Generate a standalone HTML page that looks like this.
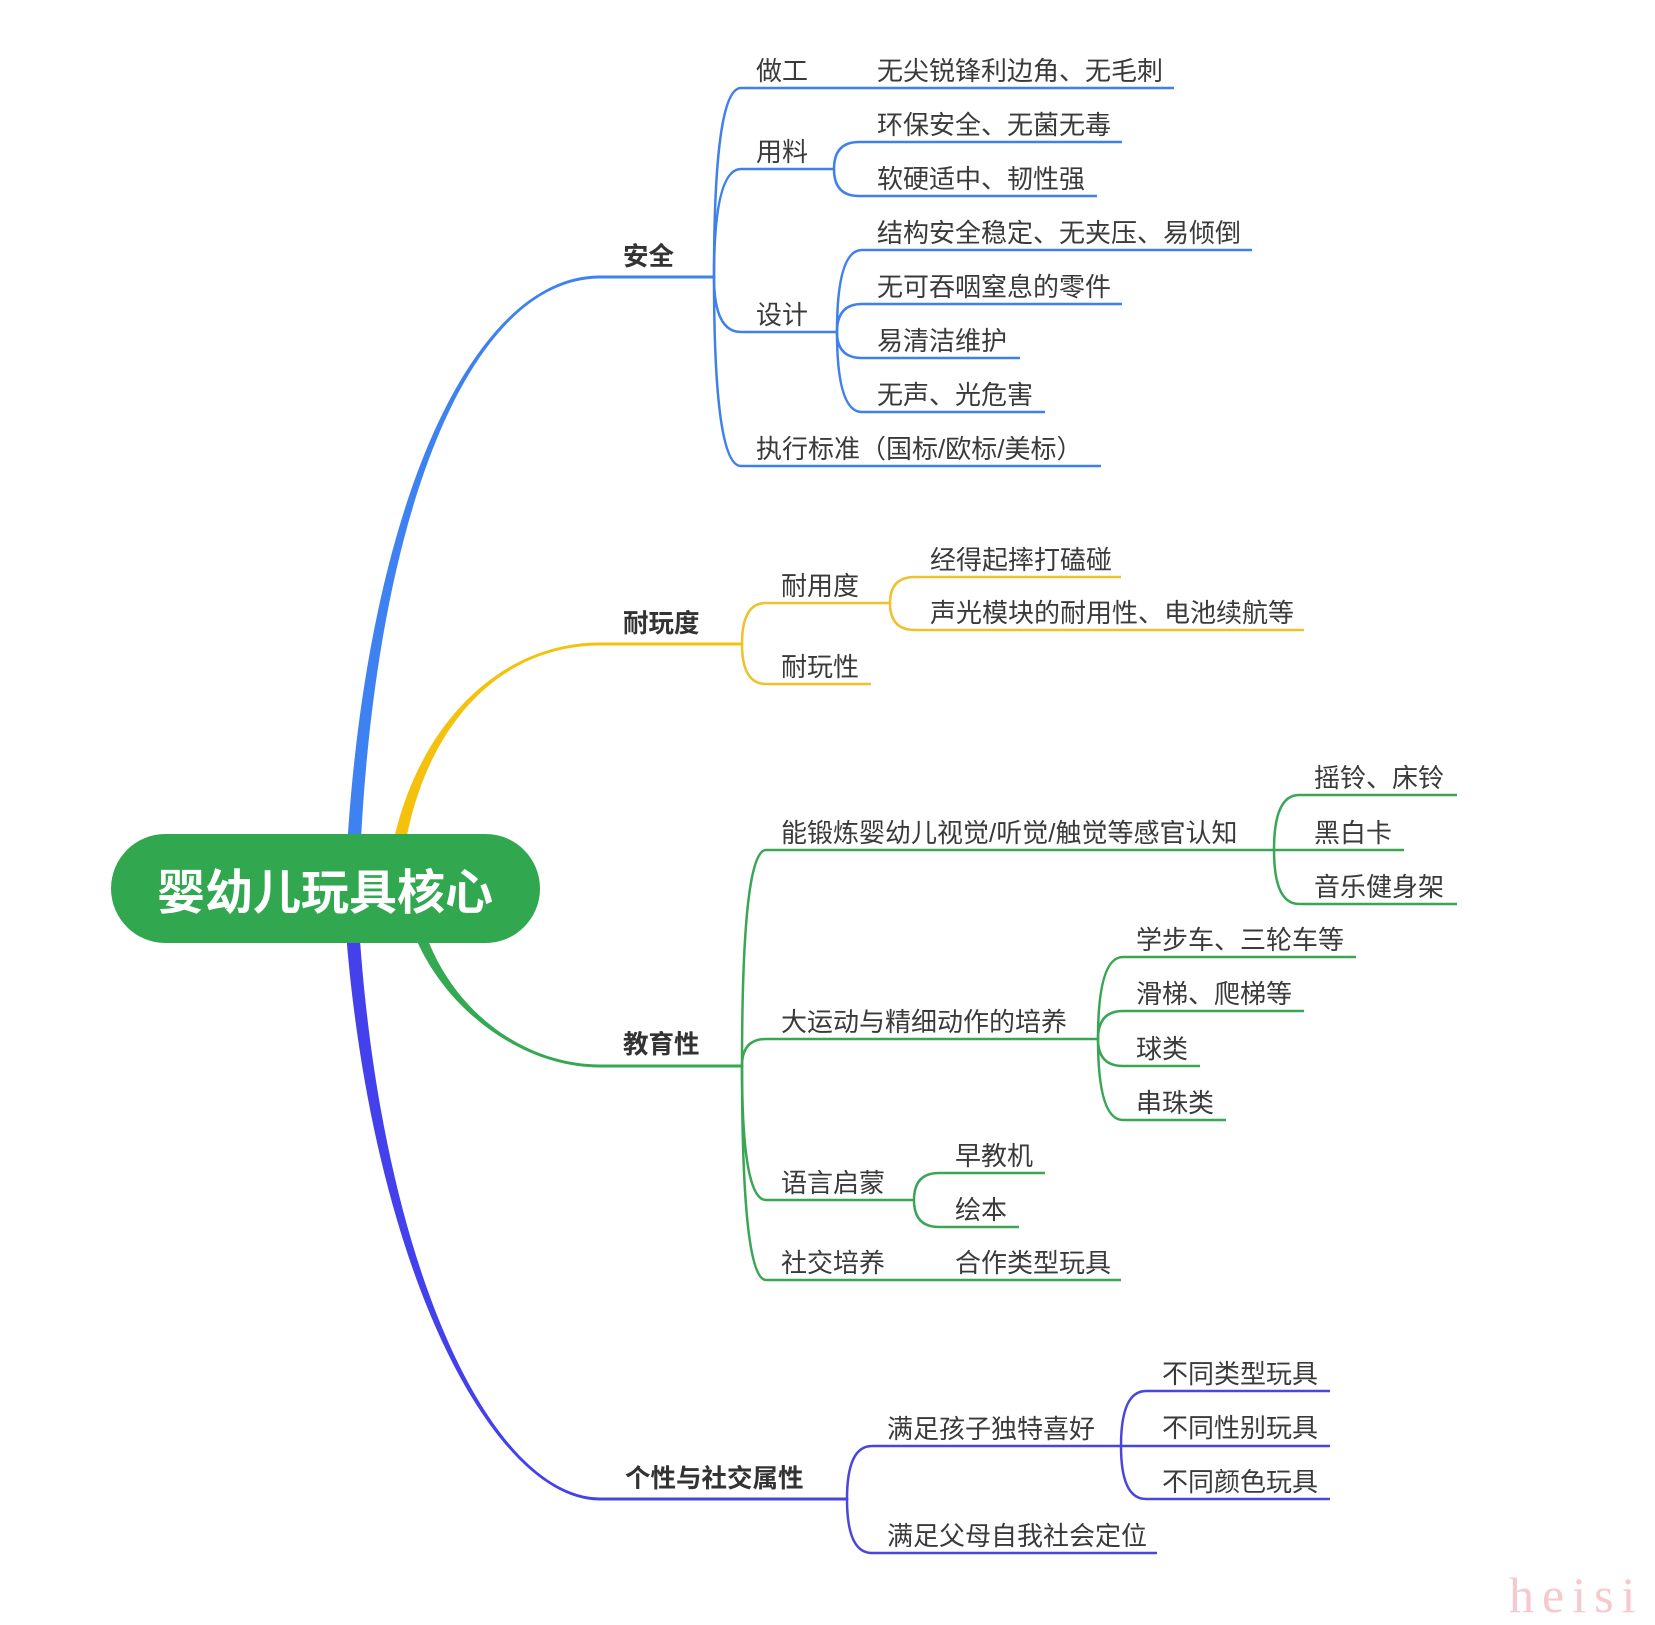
<!DOCTYPE html>
<html>
<head>
<meta charset="utf-8">
<style>
  html, body { margin: 0; padding: 0; background: #ffffff; }
  body { width: 1655px; height: 1625px; overflow: hidden; }
  svg { display: block; }
  .t { font-family: "Liberation Sans", "Noto Sans CJK SC", "WenQuanYi Zen Hei", sans-serif; font-size: 26px; fill: #3a3a3a; }
  .m { font-family: "Liberation Sans", "Noto Sans CJK SC", "WenQuanYi Zen Hei", sans-serif; font-size: 25.5px; font-weight: bold; fill: #333333; }
  .c { font-family: "Liberation Sans", "Noto Sans CJK SC", "WenQuanYi Zen Hei", sans-serif; font-size: 48px; font-weight: bold; fill: #ffffff; }
  .wm { font-family: "Liberation Serif", "DejaVu Serif", serif; font-size: 50px; fill: #f6c9cf; letter-spacing: 8px; }
</style>
</head>
<body>
<svg width="1655" height="1625" viewBox="0 0 1655 1625" xmlns="http://www.w3.org/2000/svg">
  <rect width="1655" height="1625" fill="#ffffff"/>

  <!-- Main tapered branches -->
  <path d="M345,888 C360,521 468,275.5 600,275.5 L600,278.5 C468,278.5 370,521 359,888 Z" fill="#3d82f0"/>
  <path d="M386,888 C400,742 490,642.5 600,642.5 L600,645.5 C490,645.5 410,742 400,888 Z" fill="#f4c20d"/>
  <path d="M401,888 C417,990 510,1067.5 600,1067.5 L600,1064.5 C510,1064.5 427,990 415,888 Z" fill="#34a853"/>
  <path d="M343,888 C363,1255 490,1500.5 600,1500.5 L600,1497.5 C490,1497.5 373,1255 357,888 Z" fill="#4340ec"/>

  <!-- Main horizontal segments -->
  <g fill="none" stroke-width="3" stroke-linecap="round">
    <line x1="598" y1="277" x2="714" y2="277" stroke="#3d82f0"/>
    <line x1="598" y1="644" x2="742" y2="644" stroke="#f4c20d"/>
    <line x1="598" y1="1066" x2="742" y2="1066" stroke="#34a853"/>
    <line x1="598" y1="1499" x2="847" y2="1499" stroke="#4a45dc"/>
  </g>

  <!-- Blue subtree -->
  <g fill="none" stroke="#3f80ea" stroke-width="2.5">
    <path d="M714,277 Q714,88 741,88 L1174,88"/>
    <path d="M714,277 Q714,169 741,169 L834,169"/>
    <path d="M714,277 Q714,332 741,332 L837,332"/>
    <path d="M714,277 Q714,466 741,466 L1101,466"/>
    <path d="M834,169 Q834,142 859,142 L1122,142"/>
    <path d="M834,169 Q834,196 859,196 L1097,196"/>
    <path d="M837,332 Q837,250 862,250 L1252,250"/>
    <path d="M837,332 Q837,304 862,304 L1122,304"/>
    <path d="M837,332 Q837,358 862,358 L1020,358"/>
    <path d="M837,332 Q837,412 862,412 L1045,412"/>
  </g>

  <!-- Yellow subtree -->
  <g fill="none" stroke="#efc12a" stroke-width="2.5">
    <path d="M742,644 Q742,603 766,603 L890,603"/>
    <path d="M742,644 Q742,684 766,684 L871,684"/>
    <path d="M890,603 Q890,577 915,577 L1121,577"/>
    <path d="M890,603 Q890,630 915,630 L1304,630"/>
  </g>

  <!-- Green subtree -->
  <g fill="none" stroke="#3aa655" stroke-width="2.5">
    <path d="M742,1066 Q742,850 766,850 L1274,850"/>
    <path d="M742,1066 Q742,1039 766,1039 L1098,1039"/>
    <path d="M742,1066 Q742,1200 766,1200 L914,1200"/>
    <path d="M742,1066 Q742,1280 766,1280 L1121,1280"/>
    <path d="M1274,850 Q1274,795 1299,795 L1457,795"/>
    <path d="M1274,850 L1404,850"/>
    <path d="M1274,850 Q1274,904 1299,904 L1457,904"/>
    <path d="M1098,1039 Q1098,957 1123,957 L1356,957"/>
    <path d="M1098,1039 Q1098,1011 1123,1011 L1304,1011"/>
    <path d="M1098,1039 Q1098,1066 1123,1066 L1200,1066"/>
    <path d="M1098,1039 Q1098,1120 1123,1120 L1226,1120"/>
    <path d="M914,1200 Q914,1173 939,1173 L1045,1173"/>
    <path d="M914,1200 Q914,1227 939,1227 L1019,1227"/>
  </g>

  <!-- Purple subtree -->
  <g fill="none" stroke="#4a45dc" stroke-width="2.5">
    <path d="M847,1499 Q847,1446 872,1446 L1121,1446"/>
    <path d="M847,1499 Q847,1553 872,1553 L1157,1553"/>
    <path d="M1121,1446 Q1121,1391 1146,1391 L1330,1391"/>
    <path d="M1121,1446 L1330,1446"/>
    <path d="M1121,1446 Q1121,1499 1146,1499 L1330,1499"/>
  </g>

  <!-- Center node -->
  <rect x="111" y="834" width="429" height="109" rx="54.5" ry="54.5" fill="#31a84f"/>
  <text class="c" x="325" y="909" text-anchor="middle">婴幼儿玩具核心</text>

  <!-- Main labels -->
  <text class="m" x="623" y="265">安全</text>
  <text class="m" x="623" y="632">耐玩度</text>
  <text class="m" x="623" y="1053">教育性</text>
  <text class="m" x="625" y="1487">个性与社交属性</text>

  <!-- 安全 -->
  <text class="t" x="756" y="80">做工</text>
  <text class="t" x="877" y="80">无尖锐锋利边角、无毛刺</text>
  <text class="t" x="756" y="161">用料</text>
  <text class="t" x="877" y="134">环保安全、无菌无毒</text>
  <text class="t" x="877" y="188">软硬适中、韧性强</text>
  <text class="t" x="756" y="324">设计</text>
  <text class="t" x="877" y="242">结构安全稳定、无夹压、易倾倒</text>
  <text class="t" x="877" y="296">无可吞咽窒息的零件</text>
  <text class="t" x="877" y="350">易清洁维护</text>
  <text class="t" x="877" y="404">无声、光危害</text>
  <text class="t" x="756" y="458">执行标准（国标/欧标/美标）</text>

  <!-- 耐玩度 -->
  <text class="t" x="781" y="595">耐用度</text>
  <text class="t" x="930" y="569">经得起摔打磕碰</text>
  <text class="t" x="930" y="622">声光模块的耐用性、电池续航等</text>
  <text class="t" x="781" y="676">耐玩性</text>

  <!-- 教育性 -->
  <text class="t" x="781" y="842">能锻炼婴幼儿视觉/听觉/触觉等感官认知</text>
  <text class="t" x="1314" y="787">摇铃、床铃</text>
  <text class="t" x="1314" y="842">黑白卡</text>
  <text class="t" x="1314" y="896">音乐健身架</text>
  <text class="t" x="781" y="1031">大运动与精细动作的培养</text>
  <text class="t" x="1136" y="949">学步车、三轮车等</text>
  <text class="t" x="1136" y="1003">滑梯、爬梯等</text>
  <text class="t" x="1136" y="1058">球类</text>
  <text class="t" x="1136" y="1112">串珠类</text>
  <text class="t" x="781" y="1192">语言启蒙</text>
  <text class="t" x="955" y="1165">早教机</text>
  <text class="t" x="955" y="1219">绘本</text>
  <text class="t" x="781" y="1272">社交培养</text>
  <text class="t" x="955" y="1272">合作类型玩具</text>

  <!-- 个性与社交属性 -->
  <text class="t" x="887" y="1438">满足孩子独特喜好</text>
  <text class="t" x="1162" y="1383">不同类型玩具</text>
  <text class="t" x="1162" y="1437">不同性别玩具</text>
  <text class="t" x="1162" y="1491">不同颜色玩具</text>
  <text class="t" x="887" y="1545">满足父母自我社会定位</text>

  <!-- Watermark -->
  <text class="wm" x="1509" y="1612">heisi</text>
</svg>
</body>
</html>
